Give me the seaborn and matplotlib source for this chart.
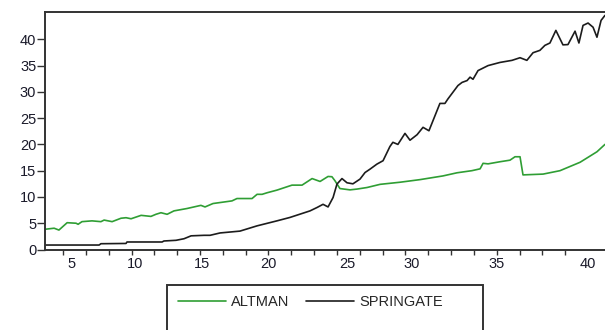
import numpy as np
import pandas as pd
import matplotlib
matplotlib.use('Agg')
import matplotlib.pyplot as plt
from matplotlib.patches import Rectangle
from matplotlib.ticker import FixedLocator
import seaborn as sns

# observation position along the axis (one unit per minor tick)
altman_x = [0.21, 0.61, 0.82, 1.18, 1.57, 1.66, 1.83, 2.27, 2.66, 2.80, 3.15, 3.54, 3.76, 3.98,
            4.42, 4.85, 5.07, 5.29, 5.56, 5.86, 6.43, 7.04, 7.22, 7.57, 8.40, 8.62, 9.28, 9.50,
            9.72, 9.94, 10.37, 11.03, 11.47, 11.91, 12.26, 12.61, 12.78, 12.91, 13.13, 13.57,
            13.88, 14.32, 14.89, 15.76, 16.64, 17.21, 17.64, 18.26, 18.91, 19.27, 19.40, 19.62,
            20.14, 20.58, 20.80, 21.02, 21.15, 22.03, 22.77, 23.65, 24.39, 24.74]
altman_y = [3.85, 4.05, 3.7, 5.1, 5.0, 4.8, 5.3, 5.45, 5.3, 5.6, 5.3, 5.95, 6.05, 5.85,
            6.5, 6.3, 6.7, 7.0, 6.7, 7.35, 7.8, 8.4, 8.1, 8.75, 9.25, 9.7, 9.7, 10.5,
            10.5, 10.8, 11.3, 12.25, 12.25, 13.5, 12.95, 13.9, 13.85, 13.1, 11.6, 11.35,
            11.5, 11.8, 12.4, 12.8, 13.3, 13.7, 14.0, 14.6, 15.0, 15.35, 16.4, 16.3,
            16.7, 17.0, 17.65, 17.65, 14.2, 14.35, 15.0, 16.6, 18.6, 20.0]

springate_x = [0.21, 2.58, 2.66, 3.76, 3.80, 5.34, 5.42, 5.95, 6.30, 6.61, 7.18, 7.44, 7.88,
               8.75, 9.50, 10.37, 10.94, 11.82, 12.13, 12.39, 12.61, 12.83, 13.00, 13.22,
               13.44, 13.70, 14.01, 14.23, 14.45, 14.75, 15.02, 15.32, 15.45, 15.67, 15.98,
               16.20, 16.51, 16.77, 17.03, 17.51, 17.73, 17.86, 18.30, 18.48, 18.70, 18.83,
               18.96, 19.18, 19.62, 20.14, 20.67, 21.02, 21.32, 21.59, 21.89, 22.11, 22.33,
               22.59, 22.90, 23.12, 23.43, 23.60, 23.78, 24.00, 24.22, 24.39, 24.57, 24.74]
springate_y = [0.85, 0.85, 1.1, 1.15, 1.43, 1.43, 1.62, 1.75, 2.05, 2.6, 2.7, 2.7, 3.15,
               3.5, 4.5, 5.45, 6.1, 7.35, 8.0, 8.6, 8.1, 9.9, 12.45, 13.5,
               12.7, 12.5, 13.4, 14.65, 15.3, 16.25, 16.9, 19.6, 20.4, 20.0, 22.1,
               20.8, 21.85, 23.25, 22.6, 27.8, 27.8, 28.65, 31.2, 31.8, 32.15, 32.8,
               32.4, 34.05, 35.0, 35.6, 36.0, 36.5, 36.0, 37.45, 37.9, 38.85, 39.3,
               41.7, 38.95, 39.0, 41.55, 39.3, 42.65, 43.1, 42.3, 40.4, 43.6, 44.55]

xtick_pos = [1.35, 4.15, 7.09, 10.02, 13.44, 16.29, 20.01, 24.0]
xtick_labels = ['5', '10', '15', '20', '25', '30', '35', '40']
ytick_pos = [0, 5, 10, 15, 20, 25, 30, 35, 40]

sns.set_style('white')
plt.rcParams['font.family'] = ['Liberation Sans', 'DejaVu Sans']

fig = plt.figure(figsize=(6.05, 3.30), dpi=100)
ax = fig.add_axes([45 / 605, 1 - 249.5 / 330, 562 / 605, 237.5 / 330])

altman = pd.DataFrame({'x': altman_x, 'y': altman_y})
springate = pd.DataFrame({'x': springate_x, 'y': springate_y})
sns.lineplot(data=altman, x='x', y='y', color='#2f9e34', linewidth=1.2, label='ALTMAN', ax=ax)
sns.lineplot(data=springate, x='x', y='y', color='#1c1c1c', linewidth=1.2, label='SPRINGATE', ax=ax)

ax.set_xlim(0.21, 24.83)
ax.set_ylim(0, 45.2)
ax.set_xlabel('')
ax.set_ylabel('')

for s in ['left', 'bottom', 'top', 'right']:
    ax.spines[s].set_color('#333333')
    ax.spines[s].set_linewidth(1.4)

ax.xaxis.set_major_locator(FixedLocator(xtick_pos))
ax.set_xticklabels(xtick_labels)
ax.xaxis.set_minor_locator(FixedLocator(np.arange(1, 25)))
ax.tick_params(axis='x', which='major', length=0, pad=5.5, labelsize=10.5, labelcolor='#1a1a2a')
ax.tick_params(axis='x', which='minor', bottom=True, length=3.6, width=1.0, color='#333333')
ax.set_yticks(ytick_pos)
ax.tick_params(axis='y', which='major', left=True, length=5.8, width=1.0, pad=0.5,
               labelsize=10.5, labelcolor='#1a1a2a', color='#333333')

ax.legend(loc='upper left', bbox_to_anchor=(168 / 605, 1 - 285 / 330),
          bbox_transform=fig.transFigure, ncol=2, frameon=False, fontsize=10.5,
          handlelength=3.3, handletextpad=0.35, columnspacing=1.1, borderaxespad=0.3)

fig.add_artist(Rectangle((167 / 605, -0.05), (483 - 167) / 605, 0.05 + 45 / 330,
                         transform=fig.transFigure, fill=False, edgecolor='#333333',
                         linewidth=1.4, clip_on=False))

fig.savefig('out.png', dpi=100)
